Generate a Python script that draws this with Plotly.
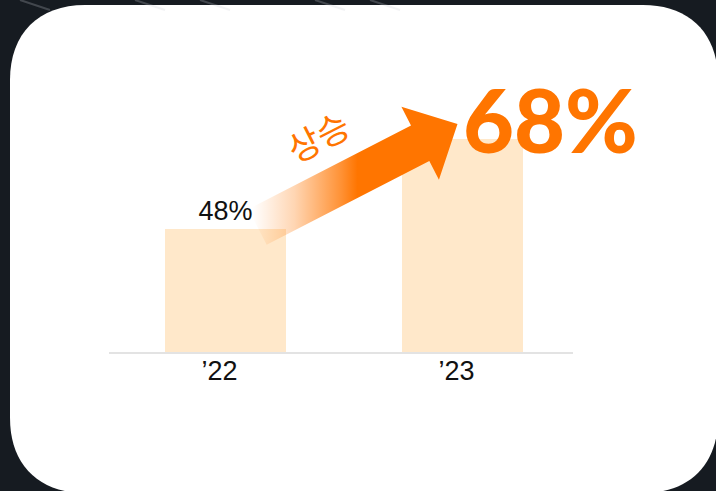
import math
import plotly.graph_objects as go

# ---- data ----
categories = ["’22", "’23"]
values = [48, 68]
trend_label = "상승"

# ---- style ----
W, H = 716, 491
ORANGE = "#FF7500"
BAR = "#FFE8CA"
BG = "#161b21"

# plot geometry (pixels)
X_LEFT, X_RIGHT = 109, 572.7
Y_BOTTOM, Y_TOP = 352, 60
Y_RANGE = [20.67, 85.56]
X_RANGE = [-0.4916, 1.465]


def x_px(i):
    return X_LEFT + (i - X_RANGE[0]) / (X_RANGE[1] - X_RANGE[0]) * (X_RIGHT - X_LEFT)


def y_px(v):
    return Y_BOTTOM - (v - Y_RANGE[0]) / (Y_RANGE[1] - Y_RANGE[0]) * (Y_BOTTOM - Y_TOP)


def P(x, y):
    return f"{x / W:.5f},{1 - y / H:.5f}"


fig = go.Figure()

labels = [f"{v}%" for v in values]
fig.add_trace(go.Bar(
    x=list(range(len(categories))), y=values,
    marker=dict(color=BAR, line=dict(width=0)),
    width=0.51,
    text=[labels[0], ""], textposition="outside",
    textfont=dict(family="Liberation Sans, Arial, sans-serif", size=27, color="#111111"),
    cliponaxis=False, hoverinfo="skip",
    xaxis="x", yaxis="y",
))

# ---- arrow (decoration in pixel overlay axes) ----
sx, sy = x_px(0) + 32, y_px(values[0]) - 2
tx, ty = x_px(1) - 5, y_px(values[1]) - 15
L = math.hypot(tx - sx, ty - sy)
ux, uy = (tx - sx) / L, (ty - sy) / L
nx, ny = -uy, ux
hl, hw, sw = 42, 41, 20
bx, by = tx - hl * ux, ty - hl * uy
pts = [
    (sx + sw * nx, sy + sw * ny),
    (bx + sw * nx, by + sw * ny),
    (bx + hw * nx, by + hw * ny),
    (tx, ty),
    (bx - hw * nx, by - hw * ny),
    (bx - sw * nx, by - sw * ny),
    (sx - sw * nx, sy - sw * ny),
    (sx + sw * nx, sy + sw * ny),
]
fig.add_trace(go.Scatter(
    x=[p[0] for p in pts], y=[p[1] for p in pts],
    mode="lines", line=dict(width=0, color="rgba(0,0,0,0)"),
    fill="toself",
    fillgradient=dict(
        type="horizontal", start=sx - 5, stop=sx + 100,
        colorscale=[[0, "rgba(255,117,0,0)"], [0.4, "rgba(255,117,0,0.3)"],
                    [0.85, "rgba(255,117,0,0.8)"], [1, "rgba(255,117,0,1)"]],
    ),
    hoverinfo="skip", showlegend=False,
    xaxis="x2", yaxis="y2",
))

# ---- card background ----
x0, x1, y0, y1, r = 10, 718, 5, 493, 75
k = 0.62 * r
card = (
    f"M {P(x0 + r, y0)} L {P(x1 - r, y0)} "
    f"C {P(x1 - r + k, y0)} {P(x1, y0 + r - k)} {P(x1, y0 + r)} "
    f"L {P(x1, y1 - r)} "
    f"C {P(x1, y1 - r + k)} {P(x1 - r + k, y1)} {P(x1 - r, y1)} "
    f"L {P(x0 + r, y1)} "
    f"C {P(x0 + r - k, y1)} {P(x0, y1 - r + k)} {P(x0, y1 - r)} "
    f"L {P(x0, y0 + r)} "
    f"C {P(x0, y0 + r - k)} {P(x0 + r - k, y0)} {P(x0 + r, y0)} Z"
)
shapes = [dict(type="path", path=card, xref="paper", yref="paper",
               fillcolor="white", line=dict(width=0), layer="below")]
for lx in [20, 135, 200, 315, 370]:
    shapes.append(dict(type="line", xref="paper", yref="paper",
                       x0=lx / W, y0=1, x1=(lx + 30) / W, y1=1 - 10 / H,
                       line=dict(color="rgba(200,205,210,0.25)", width=2), layer="below"))

annotations = [
    dict(x=1, y=values[1], xref="x", yref="y", text=labels[1],
         xanchor="left", yanchor="middle", xshift=-2, yshift=20, showarrow=False,
         font=dict(family="Lato, Inter, sans-serif", size=88, color=ORANGE, weight=900)),
    dict(x=(sx + bx) / 2 - 22, y=(sy + by) / 2 - 50, xref="x2", yref="y2",
         text=trend_label, textangle=-27, showarrow=False,
         font=dict(family="Noto Sans CJK KR, sans-serif", size=35, color=ORANGE)),
]

fig.update_layout(
    width=W, height=H,
    margin=dict(l=0, r=0, t=0, b=0),
    paper_bgcolor=BG, plot_bgcolor="rgba(0,0,0,0)",
    showlegend=False, bargap=0,
    shapes=shapes, annotations=annotations,
    xaxis=dict(domain=[X_LEFT / W, X_RIGHT / W], range=X_RANGE,
               tickvals=list(range(len(categories))), ticktext=categories,
               tickfont=dict(family="Liberation Sans, Arial, sans-serif", size=27, color="#111111"),
               showline=True, linecolor="#e3e3e3", linewidth=2,
               showgrid=False, zeroline=False, ticks="", ticklabelshift=-6,
               ticklabelstandoff=-6,
               fixedrange=True, anchor="y"),
    yaxis=dict(domain=[1 - Y_BOTTOM / H, 1 - Y_TOP / H], range=Y_RANGE,
               visible=False, showgrid=False, zeroline=False, fixedrange=True, anchor="x"),
    xaxis2=dict(domain=[0, 1], range=[0, W], visible=False, fixedrange=True, anchor="y2"),
    yaxis2=dict(domain=[0, 1], range=[H, 0], visible=False, fixedrange=True, anchor="x2"),
)

fig.write_html(
    "out.html",
    config={"displayModeBar": False},
    post_script="document.body.style.margin='0';document.body.style.overflow='hidden';",
)
